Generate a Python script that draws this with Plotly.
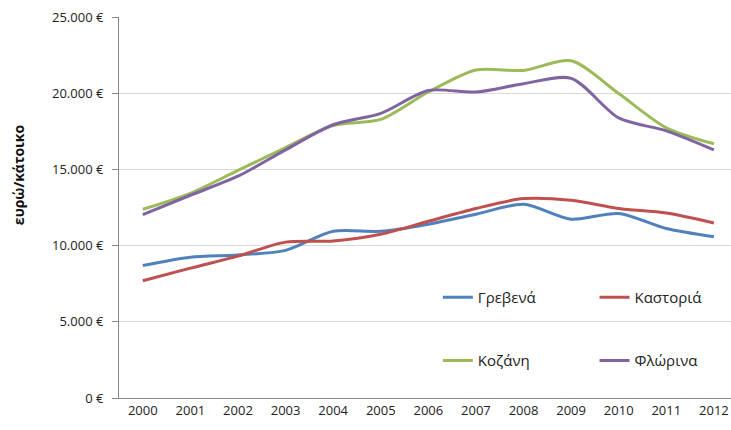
import plotly.graph_objects as go

years = ["2000", "2001", "2002", "2003", "2004", "2005", "2006",
         "2007", "2008", "2009", "2010", "2011", "2012"]
grevena = [8700, 9250, 9400, 9700, 10950, 10950, 11420, 12070, 12730, 11750, 12120, 11140, 10600]
kastoria = [7700, 8530, 9320, 10240, 10320, 10760, 11610, 12450, 13100, 12990, 12450, 12150, 11500]
kozani = [12400, 13450, 14950, 16450, 17900, 18300, 20100, 21550, 21520, 22150, 20000, 17750, 16700]
florina = [12050, 13320, 14570, 16300, 17950, 18700, 20200, 20100, 20650, 21000, 18400, 17550, 16300]
names = ["Γρεβενά", "Καστοριά", "Κοζάνη", "Φλώρινα"]
colors = ["#4F81BD", "#C0504D", "#9BBB59", "#8064A2"]
ytickvals = [0, 5000, 10000, 15000, 20000, 25000]
yticktext = ["0 €", "5.000 €", "10.000 €", "15.000 €", "20.000 €", "25.000 €"]
ytitle = "ευρώ/κάτοικο"

FONT = "Open Sans, Lato, sans-serif"
fig = go.Figure()
series = [grevena, kastoria, kozani, florina]
legends = ["legend", "legend2", "legend3", "legend4"]
for i, (vals, nm, col) in enumerate(zip(series, names, colors)):
    fig.add_trace(go.Scatter(
        x=list(range(len(years))), y=vals, name=nm, mode="lines",
        line=dict(color=col, width=3, shape="spline", smoothing=0.8),
        legend=legends[i], hoverinfo="skip"))

leg_pos = [(0.521, 0.264), (0.777, 0.264), (0.521, 0.098), (0.777, 0.098)]
common = dict(font=dict(family=FONT, size=15, color="#222"), bgcolor="rgba(0,0,0,0)",
              itemwidth=30, tracegroupgap=0, xanchor="left", yanchor="middle",
              borderwidth=0)
lay = {}
for key, (lx, ly) in zip(legends, leg_pos):
    lay[key] = dict(x=lx, y=ly, **common)

fig.update_layout(
    width=731, height=430,
    margin=dict(l=119, r=0, t=17, b=32),
    paper_bgcolor="white", plot_bgcolor="white",
    font=dict(family=FONT, size=13, color="#222"),
    showlegend=True,
    xaxis=dict(tickmode="array", tickvals=list(range(len(years))), ticktext=years,
               range=[-0.5, 12.36], showgrid=False, showline=True, linecolor="#868686",
               linewidth=1, ticks="", tickfont=dict(family=FONT, size=13, color="#222"),
               zeroline=False, fixedrange=True, ticklabeloverflow="allow"),
    yaxis=dict(range=[0, 25030], tickmode="array", tickvals=ytickvals, ticktext=yticktext,
               showgrid=True, gridcolor="#D9D9D9", gridwidth=1, showline=True,
               linecolor="#868686", linewidth=1, ticks="outside", ticklen=6,
               tickcolor="#868686", zeroline=False, ticklabelstandoff=6,
               ticklabeloverflow="allow", fixedrange=True,
               tickfont=dict(family=FONT, size=13, color="#222")),
    annotations=[dict(text="<b>" + ytitle + "</b>", textangle=-90, xref="paper", yref="paper",
                      x=-0.165, y=0.585, xanchor="center", yanchor="middle", showarrow=False,
                      font=dict(family=FONT, size=14, color="#111"))],
    **lay,
)
fig.write_html("out.html", config={"displayModeBar": False},
               post_script="document.body.style.margin='0';document.body.style.overflow='hidden';")
